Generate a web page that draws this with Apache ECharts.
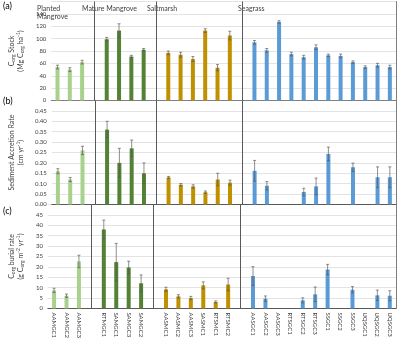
<!DOCTYPE html>
<html>
<head>
<meta charset="utf-8">
<script src="https://cdn.jsdelivr.net/npm/echarts@6/dist/echarts.min.js"></script>
<style>
  html, body { margin: 0; padding: 0; background: #fff; }
  #chart { width: 403px; height: 341px; }
</style>
</head>
<body>
<div id="chart"></div>
<script>
// groups of cores, in the order they appear on the x axis
const groupNames = ['Planted\nMangrove', 'Mature Mangrove', 'Saltmarsh', 'Seagrass'];
const groupCats = [
  ['AAMGC1', 'AAMGC2', 'AAMGC3'],
  ['RTMGC1', 'SAMGC1', 'SAMGC3', 'SAMGC2'],
  ['AASMC1', 'AASMC2', 'AASMC3', 'SASMC1', 'RTSMC1', 'RTSMC2'],
  ['AASGC1', 'AASGC2', 'AASGC3', 'RTSGC1', 'RTSGC2', 'RTSGC3', 'SSGC1', 'SSGC2', 'SSGC3', 'UQSGC1', 'UQSGC2', 'UQSGC3']
];
const groupColors = ['#a9d18e', '#548235', '#bf9000', '#5b9bd5'];

// (a) Corg stock, Mg Corg ha-1
const stock = [
  [54, 50, 62],
  [99, 113, 71, 82],
  [77, 74, 67, 113, 53, 105],
  [94, 81, 127, 75, 70, 86, 73, 72, 62, 54, 57, 54]
];
const stockErr = [
  [3, 3, 3],
  [3, 11, 2, 2],
  [3, 4, 4, 3, 5, 7],
  [3, 3, 2, 3, 3, 4, 2, 3, 2, 2, 3, 3]
];

// (b) sediment accretion rate, cm yr-1
const accretion = [
  [0.16, 0.12, 0.26],
  [0.36, 0.20, 0.27, 0.15],
  [0.13, 0.095, 0.087, 0.059, 0.12, 0.105],
  [0.162, 0.09, null, null, 0.06, 0.087, 0.243, null, 0.179, null, 0.131, 0.131]
];
const accretionErr = [
  [0.012, 0.01, 0.02],
  [0.04, 0.07, 0.04, 0.05],
  [0.005, 0.006, 0.008, 0.006, 0.03, 0.012],
  [0.05, 0.02, null, null, 0.018, 0.04, 0.033, null, 0.02, null, 0.05, 0.05]
];

// (c) Corg burial rate, g Corg m-2 yr-1
const burial = [
  [8.7, 6.1, 22.6],
  [38, 22.3, 19.7, 12.1],
  [9.2, 5.8, 5.0, 11.1, 3.1, 11.5],
  [15.6, 4.7, null, null, 3.9, 6.8, 18.7, null, 9.0, null, 6.3, 6.1]
];
const burialErr = [
  [1, 0.8, 3],
  [4.5, 9, 3, 4],
  [1, 0.8, 0.8, 1.7, 0.5, 3],
  [4.5, 1.3, null, null, 1.2, 3.5, 2.5, null, 1.5, null, 2.5, 2.4]
];

// y axes
const yMax = [160, 0.5, 50];
const yStep = [20, 0.05, 5];
const panelTags = ['(a)', '(b)', '(c)'];

// build the x categories with an empty slot between groups
const categories = [];
const groupStart = [];
const dividers = [];
groupCats.forEach((cats, g) => {
  if (g > 0) { dividers.push(categories.length); categories.push(''); }
  groupStart.push(categories.length);
  cats.forEach(c => categories.push(c));
});

const chart = echarts.init(document.getElementById('chart'));
const font = 'Lato, "Open Sans", sans-serif';

const panels = [[stock, stockErr], [accretion, accretionErr], [burial, burialErr]];
const gridPos = [[1.5, 99], [100.5, 104], [204.5, 104]];

const nameRich = {
  t: { fontSize: 7, color: '#404040', fontFamily: font, lineHeight: 9 },
  s: { fontSize: 5, color: '#404040', fontFamily: font, verticalAlign: 'bottom', lineHeight: 9 },
  p: { fontSize: 5, color: '#404040', fontFamily: font, verticalAlign: 'top', lineHeight: 9 }
};
const yNames = [
  '{t|C}{s|org}{t| Stock}\n{t|(Mg C}{s|org}{t| ha}{p|-1}{t|)}',
  '{t|Sediment Accretion Rate}\n{t|(cm yr}{p|-1}{t|)}',
  '{t|C}{s|org}{t| burial rate}\n{t|(g C}{s|org}{t| m}{p|-2}{t| yr}{p|-1}{t|)}'
];

const grid = [], xAxis = [], yAxis = [], series = [];
panels.forEach(([vals, errs], p) => {
  grid.push({ left: 34, right: 7, top: gridPos[p][0], height: gridPos[p][1] });
  xAxis.push({
    type: 'category', gridIndex: p, data: categories,
    axisTick: { show: false },
    axisLine: { lineStyle: { color: '#595959', width: 1 } },
    axisLabel: p === 2 ? {
      interval: 0, rotate: -90, fontSize: 6, color: '#404040', margin: 4, fontFamily: font
    } : { show: false }
  });
  yAxis.push({
    type: 'value', gridIndex: p, min: 0, max: yMax[p], interval: yStep[p],
    axisLine: { show: false }, axisTick: { show: false },
    axisLabel: {
      fontSize: 6, color: '#404040', margin: 5, showMaxLabel: false, fontFamily: font,
      formatter: v => p === 1 ? v.toFixed(2) : String(v)
    },
    splitLine: { lineStyle: { color: '#e3e3e3', width: 1 } },
    name: yNames[p], nameLocation: 'middle', nameGap: 15,
    nameTextStyle: { rich: nameRich }
  });
  // right-hand frame line
  yAxis.push({
    type: 'value', gridIndex: p, position: 'right', min: 0, max: yMax[p],
    axisLine: { show: true, lineStyle: { color: '#7f7f7f', width: 1 } },
    axisTick: { show: false }, axisLabel: { show: false }, splitLine: { show: false }
  });

  const errData = [];
  groupCats.forEach((cats, g) => {
    const data = categories.map(() => null);
    vals[g].forEach((v, i) => {
      const idx = groupStart[g] + i;
      data[idx] = v;
      if (v != null) errData.push([idx, v, errs[g][i]]);
    });
    const s = {
      type: 'bar', xAxisIndex: p, yAxisIndex: p * 2, data: data,
      barWidth: 4, barGap: '-100%',
      itemStyle: { color: groupColors[g] },
      silent: true, animation: false
    };
    if (g === 0) {
      s.markLine = {
        symbol: 'none', silent: true, label: { show: false },
        lineStyle: { color: '#595959', type: 'solid', width: 1 },
        data: dividers.map(d => ({ xAxis: d }))
      };
    }
    series.push(s);
  });

  series.push({
    type: 'custom', xAxisIndex: p, yAxisIndex: p * 2, data: errData,
    silent: true, animation: false, z: 5,
    renderItem: function (params, api) {
      const x = api.value(0), y = api.value(1), e = api.value(2);
      const hi = api.coord([x, y + e]);
      const lo = api.coord([x, Math.max(0, y - e)]);
      const st = { stroke: '#595959', lineWidth: 0.8, opacity: 0.85 };
      return {
        type: 'group',
        children: [
          { type: 'line', shape: { x1: hi[0], y1: hi[1], x2: lo[0], y2: lo[1] }, style: st },
          { type: 'line', shape: { x1: hi[0] - 1.5, y1: hi[1], x2: hi[0] + 1.5, y2: hi[1] }, style: st },
          { type: 'line', shape: { x1: lo[0] - 1.5, y1: lo[1], x2: lo[0] + 1.5, y2: lo[1] }, style: st }
        ]
      };
    }
  });
});

// top frame line of the figure
xAxis.push({
  type: 'category', gridIndex: 0, position: 'top', data: categories,
  axisLine: { lineStyle: { color: '#7f7f7f', width: 1 } },
  axisTick: { show: false }, axisLabel: { show: false }
});

// panel tags and group headings
const graphic = [
  { type: 'text', left: 3, top: 2, style: { text: panelTags[0], fontSize: 9, fill: '#000', fontFamily: font } },
  { type: 'text', left: 3, top: 97, style: { text: panelTags[1], fontSize: 9, fill: '#000', fontFamily: font } },
  { type: 'text', left: 3, top: 207, style: { text: panelTags[2], fontSize: 9, fill: '#000', fontFamily: font } }
];
const headLeft = [37, 82, 147, 238];
groupNames.forEach((n, g) => {
  graphic.push({
    type: 'text', left: headLeft[g], top: 5,
    style: { text: n, fontSize: 7, fill: '#404040', fontFamily: font, lineHeight: 8 }
  });
});

chart.setOption({
  animation: false,
  textStyle: { fontFamily: font },
  grid: grid,
  xAxis: xAxis,
  yAxis: yAxis,
  series: series,
  graphic: graphic
});
</script>
</body>
</html>
